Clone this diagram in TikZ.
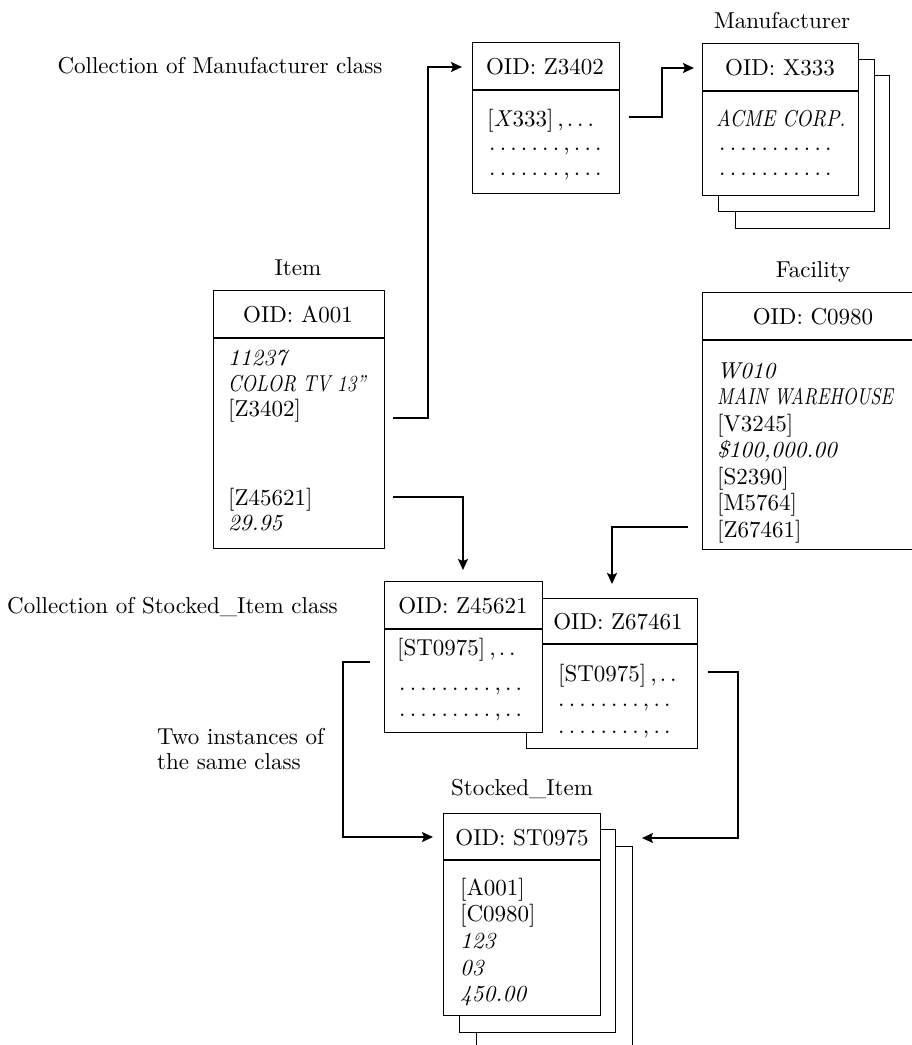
\documentclass[tikz,border=0pt]{standalone}
\usepackage{graphicx}
\usepackage{fontspec}
\setmainfont{lmroman10-regular}[Extension=.otf,ItalicFont=lmroman10-italic,BoldFont=lmroman10-bold]
\usetikzlibrary{arrows.meta}
% a row of leader dots, optionally with a comma after the first run
\newcommand{\dotrun}[2]{\foreach \i in {1,...,#1}{.\kern4.2pt}\ifnum#2>0 ,\kern4.2pt\foreach \i in {1,...,#2}{.\kern4.2pt}\fi}
% italic capitals set a little narrower
\newcommand{\capsit}[2][0.8]{\scalebox{#1}[1]{\itshape #2}}
\begin{document}
\begin{tikzpicture}[x=1pt,y=-1pt,
  frame/.style={draw,line width=1.4pt,fill=white,inner sep=0pt,anchor=north west},
  rule/.style={line width=1.4pt},
  lbl/.style={font=\fontsize{23}{27}\selectfont,inner sep=0pt},
  fld/.style={font=\fontsize{23}{27}\selectfont,inner sep=0pt,anchor=base west},
  link/.style={line width=1.4pt},
  arr/.style={link,-{Stealth[length=11pt,width=10pt,inset=2pt]}}]
\useasboundingbox (0,0) rectangle (912,1045);
\clip (0,0) rectangle (912,1045);

% ---------- Collection of Manufacturer class ----------
\node[lbl] (colman) at (220,66) {Collection of Manufacturer class};
\node[frame,minimum width=147pt,minimum height=151pt] (z3402) at (472,42) {};
\draw[rule] (472,90) -- (619,90);
\node[lbl] (z3402oid) at (545,67) {OID: Z3402};
\node[fld] (z3402a) at (487,126) {[\textit{X}333]\kern4pt,\kern3pt.\kern4pt.\kern4pt.};
\node[fld] (z3402b) at (489,150) {\dotrun{7}{3}};
\node[fld] (z3402c) at (489,175) {\dotrun{7}{3}};

% ---------- Manufacturer (stacked instances) ----------
\node[lbl] (manlbl) at (782,21) {Manufacturer};
\node[frame,minimum width=154pt,minimum height=153pt] (man3) at (735,75) {};
\node[frame,minimum width=156pt,minimum height=152pt] (man2) at (718,59) {};
\node[frame,minimum width=156pt,minimum height=152pt] (man1) at (702,43) {};
\draw[rule] (702,91) -- (858,91);
\node[lbl] (manoid) at (780,68) {OID: X333};
\node[fld] (mana) at (716,126) {\capsit[0.86]{ACME CORP.}};
\node[fld] (manb) at (719,150) {\dotrun{11}{0}};
\node[fld] (manc) at (719,175) {\dotrun{11}{0}};

% ---------- Item ----------
\node[lbl] (itemlbl) at (298,268) {Item};
\node[frame,minimum width=171pt,minimum height=258pt] (item) at (213,290) {};
\draw[rule] (213,338) -- (384,338);
\node[lbl] (itemoid) at (298,315) {OID: A001};
\node[fld] (i1) at (228,365) {\textit{11237}};
\node[fld] (i2) at (228,391) {\capsit[0.82]{COLOR TV 13''}};
\node[fld] (i3) at (228,416) {[Z3402]};
\node[fld] (i4) at (228,505) {[Z45621]};
\node[fld] (i5) at (228,530) {\textit{29.95}};

% ---------- Facility ----------
\node[lbl] (faclbl) at (813,272) {Facility};
\node[frame,minimum width=230pt,minimum height=257pt] (fac) at (702,292) {};
\draw[rule] (702,340) -- (933,340);
\node[lbl] (facoid) at (813,317) {OID: C0980};
\node[fld] (f1) at (717,378) {\textit{W010}};
\node[fld] (f2) at (717,404) {\capsit[0.79]{MAIN WAREHOUSE}};
\node[fld] (f3) at (717,431) {[V3245]};
\node[fld] (f4) at (717,457) {\textit{\$100,000.00}};
\node[fld] (f5) at (717,484) {[S2390]};
\node[fld] (f6) at (717,510) {[M5764]};
\node[fld] (f7) at (717,537) {[Z67461]};

% ---------- Collection of Stocked_Item class ----------
\node[lbl,anchor=west] (colst) at (7,607) {Collection of Stocked\_Item class};
\node[frame,minimum width=171pt,minimum height=150pt] (z67461) at (526,598) {};
\draw[rule] (526,644) -- (697,644);
\node[lbl] (z67oid) at (618,622) {OID: Z67461};
\node[fld] (z67a) at (558,681) {[ST0975]\kern4pt,\kern3pt.\kern4pt.};
\node[fld] (z67b) at (558,706) {\dotrun{8}{2}};
\node[fld] (z67c) at (558,733) {\dotrun{8}{2}};

\node[frame,minimum width=158pt,minimum height=151pt] (z45621) at (384,581) {};
\draw[rule] (384,629) -- (542,629);
\node[lbl] (z45oid) at (463,606) {OID: Z45621};
\node[fld] (z45a) at (397,655) {[ST0975]\kern4pt,\kern3pt.\kern4pt.};
\node[fld] (z45b) at (399,690) {\dotrun{9}{2}};
\node[fld] (z45c) at (399,716) {\dotrun{9}{2}};

\node[lbl,anchor=west] (two1) at (157,737) {Two instances of};
\node[lbl,anchor=west] (two2) at (157,762) {the same class};

% ---------- Stocked_Item (stacked instances) ----------
\node[lbl] (stlbl) at (522,789) {Stocked\_Item};
\node[frame,minimum width=156pt,minimum height=230pt] (st3) at (476,846) {};
\node[frame,minimum width=156pt,minimum height=203pt] (st2) at (459,829) {};
\node[frame,minimum width=157pt,minimum height=202pt] (st1) at (443,813) {};
\draw[rule] (443,860) -- (600,860);
\node[lbl] (stoid) at (522,838) {OID: ST0975};
\node[fld] (s1) at (460,895) {[A001]};
\node[fld] (s2) at (460,921) {[C0980]};
\node[fld] (s3) at (460,948) {\textit{123}};
\node[fld] (s4) at (460,975) {\textit{03}};
\node[fld] (s5) at (460,1001) {\textit{450.00}};

% ---------- reference links ----------
\coordinate (itemZ3402) at (393,418);
\coordinate (z3402in) at (462,67);
\draw[arr] (itemZ3402) -- ++(35,0) |- (z3402in);

\coordinate (z3402out) at (629,117);
\coordinate (manin) at (694,68);
\draw[arr] (z3402out) -- ++(33,0) |- (manin);

\coordinate (itemZ45621) at (393,497);
\coordinate (z45in) at (463,570);
\draw[arr] (itemZ45621) -| (z45in);

\coordinate (facZ67461) at (688,527);
\coordinate (z67in) at (612,584);
\draw[arr] (facZ67461) -| (z67in);

\coordinate (z45out) at (370,662);
\coordinate (stinL) at (433,837);
\draw[arr] (z45out) -- ++(-27,0) |- (stinL);

\coordinate (z67out) at (708,672);
\coordinate (stinR) at (642,838);
\draw[arr] (z67out) -- ++(30,0) |- (stinR);
\end{tikzpicture}
\end{document}
